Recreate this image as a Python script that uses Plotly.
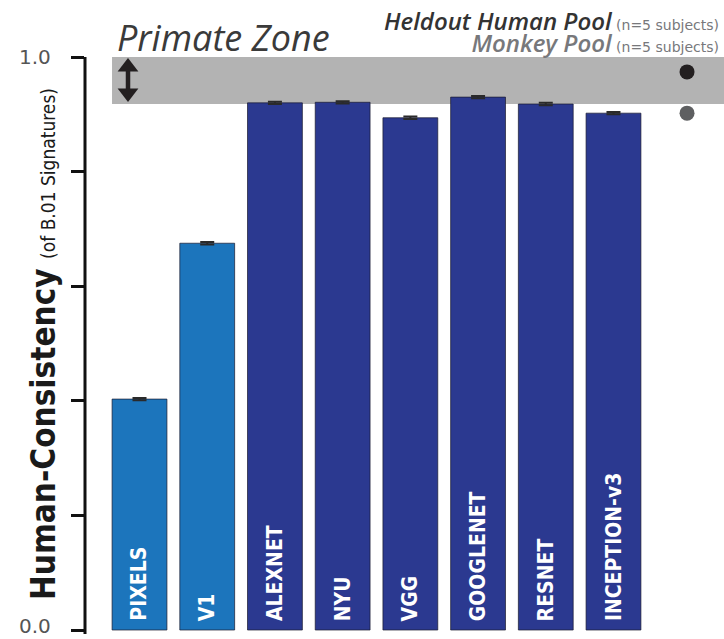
import plotly.graph_objects as go

# Model human-consistency scores (B.01 signatures)
models = ["PIXELS", "V1", "ALEXNET", "NYU", "VGG", "GOOGLENET", "RESNET", "INCEPTION-v3"]
consistency = [0.403, 0.675, 0.920, 0.921, 0.894, 0.930, 0.918, 0.902]
consistency_err = [0.002, 0.002, 0.002, 0.002, 0.002, 0.002, 0.002, 0.002]
model_colors = ["#1C75BC", "#1C75BC", "#2B3990", "#2B3990", "#2B3990", "#2B3990", "#2B3990", "#2B3990"]

# Primate reference levels
human_pool = 0.974
monkey_pool = 0.902
zone_low, zone_high = 0.918, 1.0

y_ticks = [0.0, 0.2, 0.4, 0.6, 0.8, 1.0]

NARROW = "DejaVu Sans Condensed, Liberation Sans Narrow, sans-serif"
HUMANIST = "Open Sans, Noto Sans, sans-serif"

x_pos = list(range(len(models)))

fig = go.Figure()

fig.add_trace(go.Bar(
    x=x_pos, y=consistency, width=0.81,
    marker=dict(color=model_colors, line=dict(color="rgba(25,25,45,0.7)", width=1)),
    error_y=dict(type="data", array=consistency_err, color="#2a2a2a", thickness=2, width=7),
    hoverinfo="skip", showlegend=False,
))

pool_x = 8.086
fig.add_trace(go.Scatter(
    x=[pool_x], y=[human_pool], mode="markers",
    marker=dict(color="#231F20", size=15), showlegend=False, hoverinfo="skip",
))
fig.add_trace(go.Scatter(
    x=[pool_x], y=[monkey_pool], mode="markers",
    marker=dict(color="#5E5F61", size=15), showlegend=False, hoverinfo="skip",
))

# double-headed arrow marking the extent of the primate zone
arrow_x = -0.17
arrow_top, arrow_bottom = 0.9825, 0.9372
fig.add_trace(go.Scatter(
    x=[arrow_x, arrow_x], y=[arrow_top, arrow_bottom], mode="lines+markers",
    line=dict(color="#231F20", width=4.5),
    marker=dict(symbol=["triangle-up", "triangle-down"], size=18, color="#231F20"),
    showlegend=False, hoverinfo="skip",
))

shapes = [
    # primate zone band
    dict(type="rect", xref="x", yref="y", x0=-0.406, x1=8.632, y0=zone_low, y1=zone_high,
         fillcolor="#B3B3B3", line=dict(width=0), layer="below"),
    # vertical axis spine
    dict(type="line", xref="paper", yref="y", x0=0, x1=0, y0=-0.008, y1=1.0,
         line=dict(color="#111111", width=3)),
]

annotations = []
for xi, name in zip(x_pos, models):
    annotations.append(dict(
        x=xi, y=0.012, xref="x", yref="y", text=name, showarrow=False,
        textangle=-90, xanchor="center", yanchor="bottom",
        font=dict(family=NARROW, size=21, color="white", weight="bold"),
    ))

# end labels of the value axis
tick_font = dict(family="DejaVu Sans", size=20, color="#555555")
annotations.append(dict(
    x=(53 - 85) / 639, y=y_ticks[-1], xref="paper", yref="y", text="1.0", showarrow=False,
    xanchor="right", yanchor="middle", font=tick_font,
))
annotations.append(dict(
    x=(53 - 85) / 639, y=y_ticks[0], xref="paper", yref="y", text="0.0", showarrow=False,
    xanchor="right", yanchor="middle", yshift=4, font=tick_font,
))

annotations.append(dict(
    x=(115 - 85) / 639, y=1 - 37.5 / 634, xref="paper", yref="paper",
    text="<i>Primate Zone</i>", showarrow=False, xanchor="left", yanchor="middle",
    font=dict(family=HUMANIST, size=36, color="#3a3a3a"),
))

# pool legend: two right-aligned lines in one block
small = "<span style='font-size:14px;font-family:DejaVu Sans;font-weight:normal;font-style:normal'>(n=5 subjects)</span>"
annotations.append(dict(
    x=(721 - 85) / 639, y=1 - 31 / 634, xref="paper", yref="paper",
    text=("<span style='font-size:24px;color:#333333'><i>Heldout Human Pool</i></span> " + small
          + "<br><span style='font-size:24px'><i>Monkey Pool</i></span> " + small),
    showarrow=False, xanchor="right", yanchor="middle", align="right",
    font=dict(family=HUMANIST, size=17, color="#77787B", weight=600),
))

# y-axis title
annotations.append(dict(
    x=(43 - 85) / 639, y=0.499, xref="paper", yref="y",
    text="<b>Human-Consistency</b> <span style='font-size:19px'>(of B.01 Signatures)</span>",
    showarrow=False, textangle=-90, xanchor="center", yanchor="middle",
    font=dict(family=NARROW, size=33, color="#1a1a1a"),
))

fig.update_layout(
    width=724, height=639,
    margin=dict(l=85, r=0, t=0, b=5),
    paper_bgcolor="white", plot_bgcolor="white",
    shapes=shapes, annotations=annotations,
    xaxis=dict(range=[-0.805, 8.632], visible=False, fixedrange=True),
    yaxis=dict(
        range=[-0.00698, 1.0995], tickvals=y_ticks, showticklabels=False,
        ticks="outside", ticklen=13, tickwidth=2.5, tickcolor="#111111",
        showline=False, showgrid=False, zeroline=False, fixedrange=True,
    ),
    bargap=0.19,
)

fig.write_html("out.html")
